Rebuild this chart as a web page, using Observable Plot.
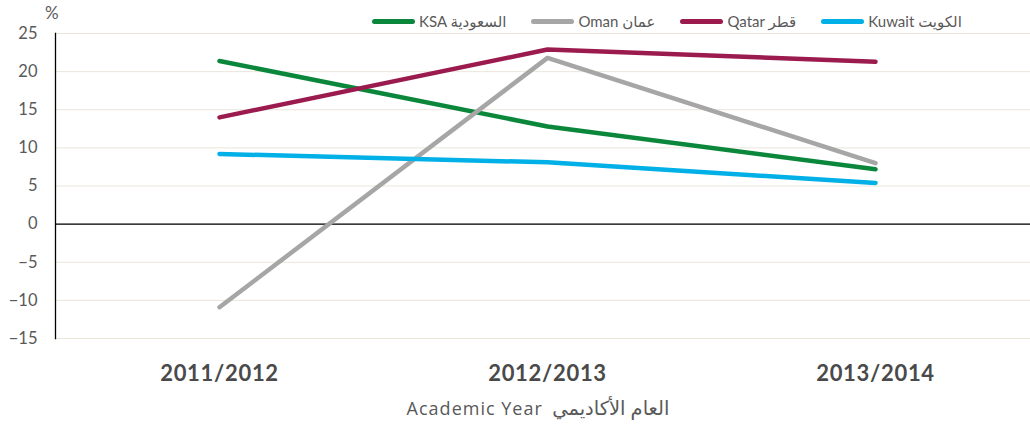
<!DOCTYPE html>
<html><head><meta charset="utf-8">
<script src="https://cdn.jsdelivr.net/npm/d3@7"></script>
<script src="https://cdn.jsdelivr.net/npm/@observablehq/plot@0.6"></script>
<style>
body{margin:0;background:#fff;font-family:Lato,"DejaVu Sans",sans-serif;}
#wrap{position:relative;width:1030px;height:426px;overflow:hidden;}
#legend{position:absolute;top:12px;left:372px;display:flex;align-items:center;font-size:15px;color:#595959;white-space:nowrap;}
.item{display:flex;align-items:center;margin-right:25px;}
.sw{width:43px;height:5px;border-radius:3px;margin-right:4px;}
#pct{position:absolute;left:45px;top:2px;font-size:17px;color:#595959;}
#xtitle{position:absolute;left:0;width:1076px;text-align:center;top:396px;font-size:18px;color:#595959;font-family:"Open Sans","DejaVu Sans",sans-serif;line-height:24px;white-space:nowrap;}
#xtitle .lat{letter-spacing:1px;}
#xtitle .ar{font-size:19.5px;}
g[aria-label="x-axis tick label"] text{letter-spacing:0.7px;}
</style></head><body>
<div id="wrap"><div id="chart"></div><div id="pct">%</div><div id="legend"></div><div id="xtitle"><span class="lat">Academic Year</span>&nbsp;&nbsp;<span class="ar">العام الأكاديمي</span></div></div>
<script>
const years = ["2011/2012", "2012/2013", "2013/2014"];
const seriesNames = ["KSA السعودية", "Oman عمان", "Qatar قطر", "Kuwait الكويت"];
const seriesColors = ["#0b873c", "#a6a6a6", "#9b1b4f", "#00b0e6"];
const ksa = [21.4, 12.8, 7.2];
const oman = [-10.9, 21.8, 8.0];
const qatar = [14.0, 22.9, 21.3];
const kuwait = [9.2, 8.1, 5.4];
const yTicks = [-15, -10, -5, 0, 5, 10, 15, 20, 25];

const allSeries = [ksa, oman, qatar, kuwait];
const data = [];
allSeries.forEach((vals, i) => vals.forEach((v, j) => data.push({series: seriesNames[i], year: years[j], value: v})));

const chart = Plot.plot({
  width: 1030, height: 426,
  marginTop: 33, marginBottom: 88, marginLeft: 55, marginRight: -9,
  x: {type: "point", domain: years, padding: 0.5},
  y: {domain: [-15, 25]},
  color: {domain: seriesNames, range: seriesColors},
  style: {fontFamily: "Lato, 'DejaVu Sans', sans-serif", background: "white", overflow: "hidden"},
  marks: [
    Plot.gridY(yTicks, {stroke: "#ebe6da", strokeOpacity: 1, strokeWidth: 1}),
    Plot.axisY(yTicks, {tickSize: 0, tickPadding: 18, fontSize: 16.5, fill: "#595959", label: null}),
    Plot.axisX({tickSize: 0, tickPadding: 27, fontSize: 22, fontWeight: "bold", fill: "#4a4a4a", label: null}),
    Plot.ruleY([0], {stroke: "black", strokeWidth: 1.3}),
    Plot.frame({anchor: "left", stroke: "black", strokeWidth: 1.3}),
    Plot.line(data, {x: "year", y: "value", z: "series", stroke: "series", strokeWidth: 4.5, strokeLinecap: "round", strokeLinejoin: "round"})
  ]
});
document.getElementById("chart").appendChild(chart);

const legend = document.getElementById("legend");
seriesNames.forEach((n, i) => {
  const it = document.createElement("div"); it.className = "item";
  const sw = document.createElement("div"); sw.className = "sw"; sw.style.background = seriesColors[i];
  const t = document.createElement("span"); t.textContent = n;
  it.appendChild(sw); it.appendChild(t); legend.appendChild(it);
});
</script>
</body></html>
